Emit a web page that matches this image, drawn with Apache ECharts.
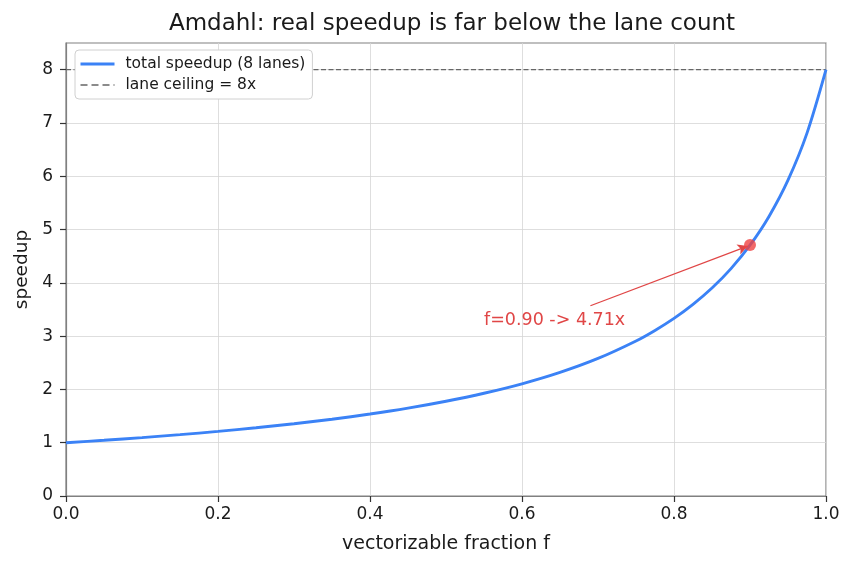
<!DOCTYPE html>
<html>
<head>
<meta charset="utf-8">
<script src="https://cdn.jsdelivr.net/npm/echarts@6/dist/echarts.min.js"></script>
<style>
  html, body { margin: 0; padding: 0; background: #fff; }
  #chart { width: 855px; height: 569px; }
</style>
</head>
<body>
<div id="chart"></div>
<script>
// vectorizable fraction f (x) and speedup (y)
var fracValues = [0, 0.05, 0.1, 0.15, 0.2, 0.25, 0.3, 0.35, 0.4, 0.45, 0.5, 0.55, 0.6, 0.65, 0.7, 0.75, 0.775, 0.8, 0.825, 0.85, 0.875, 0.9, 0.925, 0.95, 0.975, 1.0];
var speedupValues = [1.0, 1.046, 1.096, 1.151, 1.212, 1.28, 1.356, 1.441, 1.538, 1.649, 1.778, 1.928, 2.105, 2.319, 2.581, 2.909, 3.107, 3.333, 3.596, 3.902, 4.267, 4.706, 5.246, 5.926, 6.809, 8.0];
var laneCeiling = 8;
var markedPoint = [0.9, 4.71];
var annotText = 'f=0.90 -> 4.71x';
var annotTextAt = [0.55, 3.2];
var arrowStart = [0.69, 3.57];
var yTicks = [0, 1, 2, 3, 4, 5, 6, 7, 8];

var dom = document.getElementById('chart');
var myChart = echarts.init(dom, null, { renderer: 'canvas' });

var curveData = [];
for (var i = 0; i < fracValues.length; i++) {
    curveData.push([fracValues[i], speedupValues[i]]);
}

var font = 'DejaVu Sans';
var textColor = '#1a1a1a';
var blue = '#3b82f6';
var ceilGray = '#666';
var red = '#e04646';

var option = {
    animation: false,
    backgroundColor: '#fff',
    title: {
        text: 'Amdahl: real speedup is far below the lane count',
        left: 447,
        top: 8,
        textAlign: 'center',
        textStyle: { fontFamily: font, fontSize: 23, fontWeight: 'normal', color: textColor }
    },
    legend: {
        orient: 'vertical',
        left: 75,
        top: 50,
        padding: [6, 7, 6, 4],
        itemGap: 5,
        itemWidth: 34,
        itemHeight: 17,
        backgroundColor: '#fff',
        borderColor: '#d0d0d0',
        borderWidth: 1,
        borderRadius: 4,
        itemStyle: { color: 'rgba(0,0,0,0)', borderWidth: 0, opacity: 0 },
        textStyle: { fontFamily: font, fontSize: 15.5, color: textColor, padding: [0, 0, 0, 6] },
        data: [
            { name: 'total speedup (8 lanes)', lineStyle: { color: blue, width: 3 } },
            { name: 'lane ceiling = 8x', lineStyle: { color: ceilGray, width: 1.5, type: [7, 4] } }
        ]
    },
    grid: {
        left: 66,
        right: 29,
        top: 43,
        bottom: 73,
        show: true,
        borderColor: '#808080',
        borderWidth: 1.2,
        containLabel: false
    },
    xAxis: {
        type: 'value',
        min: 0,
        max: 1,
        interval: 0.2,
        name: 'vectorizable fraction f',
        nameLocation: 'middle',
        nameGap: 39,
        nameTextStyle: { fontFamily: font, fontSize: 19, color: textColor },
        axisLine: { show: true, lineStyle: { color: '#808080', width: 1.2 } },
        axisTick: { show: true, length: 6, lineStyle: { color: '#333', width: 1.2 } },
        axisLabel: {
            fontFamily: font, fontSize: 17, color: textColor, margin: 10,
            formatter: function (v) { return v.toFixed(1); }
        },
        splitLine: { show: true, lineStyle: { color: '#d5d5d5', width: 0.8 } }
    },
    yAxis: {
        type: 'value',
        min: 0,
        max: 8.5,
        interval: 1,
        name: 'speedup',
        nameLocation: 'middle',
        nameGap: 32,
        nameTextStyle: { fontFamily: font, fontSize: 18.5, color: textColor },
        axisLine: { show: true, lineStyle: { color: '#808080', width: 1.2 } },
        axisTick: { show: true, length: 6, customValues: yTicks, lineStyle: { color: '#333', width: 1.2 } },
        axisLabel: {
            fontFamily: font, fontSize: 17, color: textColor, margin: 13,
            customValues: yTicks
        },
        splitLine: { show: true, lineStyle: { color: '#d5d5d5', width: 0.8 } }
    },
    series: [
        {
            name: 'total speedup (8 lanes)',
            type: 'line',
            data: curveData,
            smooth: 0.3,
            symbol: 'none',
            lineStyle: { color: blue, width: 2.9 },
            itemStyle: { color: blue },
            z: 3
        },
        {
            name: 'lane ceiling = 8x',
            type: 'line',
            data: [[0, laneCeiling], [1, laneCeiling]],
            symbol: 'none',
            lineStyle: { color: ceilGray, width: 1.3, type: [5, 2.5] },
            itemStyle: { color: ceilGray },
            z: 2
        },
        {
            name: 'marker',
            type: 'scatter',
            data: [markedPoint],
            symbolSize: 12,
            itemStyle: { color: '#ef4444' },
            z: 5,
            markLine: {
                silent: true,
                symbol: ['none', 'arrow'],
                symbolSize: [8, 10],
                label: { show: false },
                lineStyle: { color: red, width: 1.3, type: 'solid' },
                data: [[{ coord: arrowStart }, { coord: [0.897, 4.69] }]]
            },
            markPoint: {
                silent: true,
                symbol: 'circle',
                symbolSize: 0,
                data: [{
                    coord: annotTextAt,
                    label: {
                        show: true,
                        position: 'right',
                        distance: 0,
                        offset: [0, -5],
                        formatter: annotText,
                        fontFamily: font,
                        fontSize: 17.5,
                        color: red
                    }
                }]
            }
        }
    ]
};

myChart.setOption(option, true);
</script>
</body>
</html>
